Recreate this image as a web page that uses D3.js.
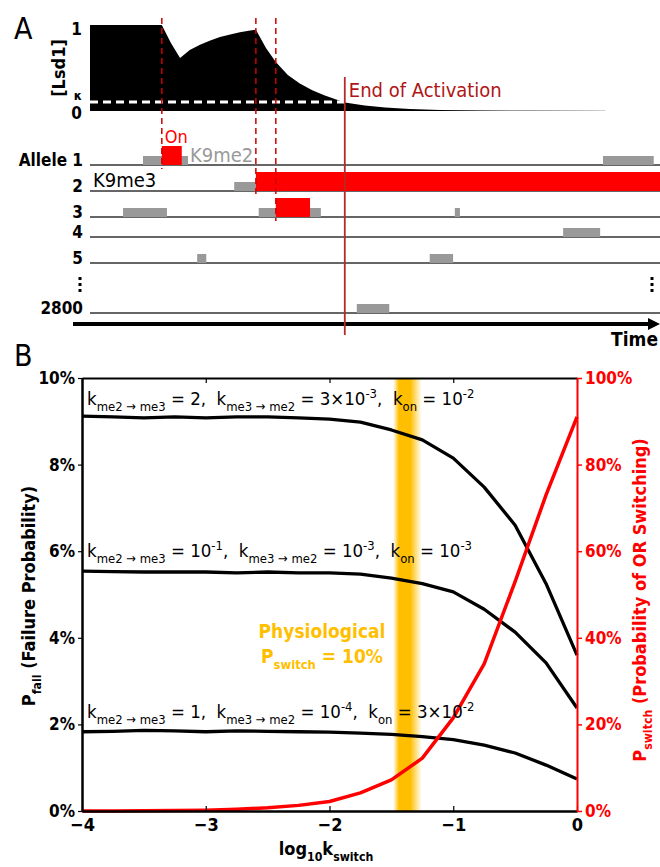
<!DOCTYPE html>
<meta charset="UTF-8">
<style>
    body { margin: 0; background: #fff; }
    svg text { font-family: "DejaVu Sans Condensed", "DejaVu Sans", sans-serif; white-space: pre; }
    .bold { font-weight: bold; }
</style>
<body>
<div id="chart"></div>
<script src="https://cdn.jsdelivr.net/npm/d3@7/dist/d3.min.js"></script>
<script>
    // ---------------- panel A data (time in arbitrary units, 0..100) ----------------
    var lsdTime  = [0, 12.6, 14.2, 15.8, 17.5, 19.3, 21.1, 22.8, 24.6, 26.3, 28.1, 29.1,
                    30.9, 32.6, 34.7, 36.8, 39.0, 41.2, 44.7, 48.2, 51.8, 56.1, 61.4, 68.4, 77.2, 90.4];
    var lsdLevel = [1, 1, 0.79, 0.616, 0.71, 0.77, 0.82, 0.86, 0.89, 0.915, 0.935, 0.945,
                    0.73, 0.57, 0.42, 0.32, 0.24, 0.18, 0.10, 0.065, 0.04, 0.022, 0.012, 0.005, 0.002, 0];
    var kappa = 0.105;
    var endOfActivation = 44.7;

    var alleleLabels = ["Allele 1", "2", "3", "4", "5", "2800"];

    // K9me2 periods
    var me2Row   = [0, 0, 1, 2, 2, 2, 3, 4, 4, 5];
    var me2Start = [9.3, 90.0, 25.3, 5.8, 29.6, 64.0, 83.0, 18.8, 59.6, 46.8];
    var me2End   = [17.2, 98.9, 29.1, 13.5, 40.5, 64.9, 89.5, 20.4, 63.7, 52.5];

    // "On" periods
    var onRow   = [0, 1, 2];
    var onStart = [12.6, 29.1, 32.6];
    var onEnd   = [16.1, 100, 38.6];

    // ---------------- panel B data ----------------
    var logK = [-4, -3.75, -3.5, -3.25, -3, -2.75, -2.5, -2.25, -2, -1.75, -1.5, -1.25, -1, -0.75, -0.5, -0.25, 0];
    var failHigh = [9.12, 9.10, 9.08, 9.10, 9.08, 9.10, 9.10, 9.08, 9.05, 8.98, 8.80, 8.57, 8.15, 7.48, 6.60, 5.25, 3.60];
    var failMid  = [5.54, 5.53, 5.52, 5.52, 5.52, 5.50, 5.52, 5.50, 5.50, 5.47, 5.38, 5.25, 5.06, 4.66, 4.13, 3.42, 2.38];
    var failLow  = [1.83, 1.84, 1.86, 1.85, 1.83, 1.85, 1.84, 1.83, 1.82, 1.80, 1.77, 1.72, 1.65, 1.52, 1.34, 1.06, 0.74];
    var pSwitch  = [0, 0, 0.05, 0.1, 0.2, 0.4, 0.75, 1.3, 2.2, 4.2, 7.2, 12.2, 21.5, 34, 53, 73, 91];
    var physioLogK = -1.37;
    var physioHalfWidth = 0.115;

    var failTicks = [0, 2, 4, 6, 8, 10];
    var switchTicks = [0, 20, 40, 60, 80, 100];
    var xTicks = [-4, -3, -2, -1, 0];

    // label pieces: [text, "n" | "sub" | "sup"]
    var labelHigh = [["k", "n"], ["me2 \u2192 me3", "sub"], [" = 2,  k", "n"], ["me3 \u2192 me2", "sub"],
                     [" = 3\u00d710", "n"], ["-3", "sup"], [",  k", "n"], ["on", "sub"], [" = 10", "n"], ["-2", "sup"]];
    var labelMid  = [["k", "n"], ["me2 \u2192 me3", "sub"], [" = 10", "n"], ["-1", "sup"], [",  k", "n"], ["me3 \u2192 me2", "sub"],
                     [" = 10", "n"], ["-3", "sup"], [",  k", "n"], ["on", "sub"], [" = 10", "n"], ["-3", "sup"]];
    var labelLow  = [["k", "n"], ["me2 \u2192 me3", "sub"], [" = 1,  k", "n"], ["me3 \u2192 me2", "sub"],
                     [" = 10", "n"], ["-4", "sup"], [",  k", "n"], ["on", "sub"], [" = 3\u00d710", "n"], ["-2", "sup"]];

    var svg = d3.select("#chart").append("svg")
            .attr("width", 660)
            .attr("height", 867);

    // writes pieces of text with sub/superscripts into a <text>
    function richText(textSel, parts, size, ratio) {
        var cur = 0;
        ratio = ratio || 0.68;
        parts.forEach(function (p) {
            var off = p[1] === "sub" ? size * 0.32 : p[1] === "sup" ? -size * 0.38 : 0;
            textSel.append("tspan")
                    .attr("dy", off - cur)
                    .style("font-size", (p[1] === "n" ? size : size * ratio) + "px")
                    .text(p[0]);
            cur = off;
        });
    }

    // ======================= PANEL A =======================
    var t = d3.scaleLinear().domain([0, 100]).range([90, 660]);
    var yLsd = d3.scaleLinear().domain([0, 1]).range([111, 25]);
    var rowY = [165, 191, 217, 237, 263, 313];

    svg.append("text").attr("x", 14).attr("y", 39)
            .style("font-size", "30px").text("A");

    // faint trace along the baseline, showing where the tail fades out
    svg.append("path")
            .datum(lsdTime)
            .attr("fill", "none")
            .attr("stroke", "#cfcfcf")
            .attr("stroke-width", 1)
            .attr("d", d3.line()
                    .x(function (d) { return t(d); })
                    .y(function () { return yLsd(0) - 0.5; }));

    svg.append("path")
            .datum(lsdTime)
            .attr("fill", "#000")
            .attr("d", d3.area()
                    .x(function (d) { return t(d); })
                    .y0(yLsd(0))
                    .y1(function (d, i) { return yLsd(lsdLevel[i]); }));

    // kappa threshold
    svg.append("line")
            .attr("x1", t(0)).attr("x2", t(endOfActivation))
            .attr("y1", yLsd(kappa)).attr("y2", yLsd(kappa))
            .attr("stroke", "#fff").attr("stroke-width", 3)
            .attr("stroke-dasharray", "8,5");

    svg.append("text").attr("class", "bold").attr("x", 82).attr("y", 35)
            .attr("text-anchor", "end").style("font-size", "17px").text("1");
    svg.append("text").attr("class", "bold").attr("x", 82).attr("y", 100)
            .attr("text-anchor", "end").style("font-size", "13px").text("\u03ba");
    svg.append("text").attr("class", "bold").attr("x", 82).attr("y", 119)
            .attr("text-anchor", "end").style("font-size", "17px").text("0");
    svg.append("text").attr("class", "bold")
            .attr("transform", "translate(65,68) rotate(-90)")
            .attr("text-anchor", "middle").style("font-size", "18px").text("[Lsd1]");

    // allele rows
    svg.selectAll("line.row").data(alleleLabels).enter().append("line")
            .attr("class", "row")
            .attr("x1", t(0)).attr("x2", t(100))
            .attr("y1", function (d, i) { return rowY[i]; })
            .attr("y2", function (d, i) { return rowY[i]; })
            .attr("stroke", "#333").attr("stroke-width", 1.5);

    svg.selectAll("text.rowlab").data(alleleLabels).enter().append("text")
            .attr("class", "rowlab bold")
            .attr("x", 83)
            .attr("y", function (d, i) { return rowY[i] + 1; })
            .attr("text-anchor", "end")
            .style("font-size", "17px")
            .text(function (d) { return d; });

    svg.selectAll("rect.me2").data(me2Row).enter().append("rect")
            .attr("class", "me2")
            .attr("x", function (d, i) { return t(me2Start[i]); })
            .attr("width", function (d, i) { return t(me2End[i]) - t(me2Start[i]); })
            .attr("y", function (d) { return rowY[d] - 9; })
            .attr("height", 9)
            .attr("fill", "#999");

    svg.selectAll("rect.on").data(onRow).enter().append("rect")
            .attr("class", "on")
            .attr("x", function (d, i) { return t(onStart[i]); })
            .attr("width", function (d, i) { return t(onEnd[i]) - t(onStart[i]); })
            .attr("y", function (d) { return rowY[d] - 19; })
            .attr("height", 19)
            .attr("fill", "#ff0000");

    // dashed markers at each switch-on
    svg.selectAll("line.onmark").data(onRow).enter().append("line")
            .attr("class", "onmark")
            .attr("x1", function (d, i) { return t(onStart[i]); })
            .attr("x2", function (d, i) { return t(onStart[i]); })
            .attr("y1", 18)
            .attr("y2", function (d) { return rowY[d] + 4; })
            .attr("stroke", "#cc0000").attr("stroke-width", 1.5)
            .attr("stroke-dasharray", "6,4");

    svg.append("text").attr("x", t(onStart[0]) + 3).attr("y", 143)
            .attr("fill", "#f00").style("font-size", "18px").text("On");
    svg.append("text").attr("x", 190).attr("y", 162)
            .attr("fill", "#999").style("font-size", "20px").text("K9me2");
    svg.append("text").attr("x", 93).attr("y", 187)
            .attr("fill", "#000").style("font-size", "20px").text("K9me3");

    // vertical dots
    [[80, 277], [652, 277]].forEach(function (p) {
        for (var k = 0; k < 3; k++) {
            svg.append("rect").attr("x", p[0] - 1.5).attr("y", p[1] + k * 6)
                    .attr("width", 3).attr("height", 3).attr("fill", "#000");
        }
    });

    // time arrow
    svg.append("line").attr("x1", 73).attr("x2", 650).attr("y1", 324).attr("y2", 324)
            .attr("stroke", "#000").attr("stroke-width", 4);
    svg.append("path").attr("d", "M648,318L660,324L648,330Z").attr("fill", "#000");
    svg.append("text").attr("class", "bold").attr("x", 658).attr("y", 346)
            .attr("text-anchor", "end").style("font-size", "19px").text("Time");

    // end of activation
    svg.append("line")
            .attr("x1", t(endOfActivation)).attr("x2", t(endOfActivation))
            .attr("y1", 77).attr("y2", 335)
            .attr("stroke", "#b52a2a").attr("stroke-width", 1.8);
    svg.append("text").attr("x", t(endOfActivation) + 4).attr("y", 97)
            .attr("fill", "#b01515").style("font-size", "20px").text("End of Activation");

    // ======================= PANEL B =======================
    var x = d3.scaleLinear().domain([-4, 0]).range([82, 577]);
    var yL = d3.scaleLinear().domain([0, 10]).range([811, 378]);
    var yR = d3.scaleLinear().domain([0, 100]).range([811, 378]);

    svg.append("text").attr("x", 14).attr("y", 366)
            .style("font-size", "30px").text("B");

    var defs = svg.append("defs");
    var grad = defs.append("linearGradient").attr("id", "band")
            .attr("x1", "0%").attr("x2", "100%").attr("y1", "0%").attr("y2", "0%");
    [[0, 0], [0.2, 1], [0.6, 1], [1, 0]].forEach(function (s) {
        grad.append("stop").attr("offset", s[0]).attr("stop-color", "#ffbf00").attr("stop-opacity", s[1]);
    });

    svg.append("rect")
            .attr("x", x(physioLogK - physioHalfWidth))
            .attr("width", x(physioLogK + physioHalfWidth) - x(physioLogK - physioHalfWidth))
            .attr("y", yL(10)).attr("height", yL(0) - yL(10))
            .attr("fill", "url(#band)");

    var failLine = d3.line()
            .x(function (d, i) { return x(logK[i]); })
            .y(function (d) { return yL(d); });

    [failHigh, failMid, failLow].forEach(function (s) {
        svg.append("path").datum(s)
                .attr("fill", "none").attr("stroke", "#000")
                .attr("stroke-width", 3.3).attr("stroke-linejoin", "round")
                .attr("d", failLine);
    });

    svg.append("path").datum(pSwitch)
            .attr("fill", "none").attr("stroke", "#ff0000")
            .attr("stroke-width", 3.5).attr("stroke-linejoin", "round")
            .attr("d", d3.line()
                    .x(function (d, i) { return x(logK[i]); })
                    .y(function (d) { return yR(d); }));

    // axes
    var pct = function (d) { return d + "%"; };
    var gL = svg.append("g").attr("transform", "translate(" + x(-4) + ",0)")
            .call(d3.axisLeft(yL).tickValues(failTicks).tickFormat(pct).tickSize(4).tickSizeOuter(0).tickPadding(3));
    var gB = svg.append("g").attr("transform", "translate(0," + yL(0) + ")")
            .call(d3.axisBottom(x).tickValues(xTicks).tickFormat(d3.format("d")).tickSize(-5).tickSizeOuter(0).tickPadding(7));
    var gT = svg.append("g").attr("transform", "translate(0," + yL(10) + ")")
            .call(d3.axisTop(x).tickValues(xTicks).tickFormat("").tickSize(-5).tickSizeOuter(0));
    var gR = svg.append("g").attr("transform", "translate(" + x(0) + ",0)")
            .call(d3.axisRight(yR).tickValues(switchTicks).tickFormat(pct).tickSize(5).tickSizeOuter(0).tickPadding(3));

    [gL, gB, gT, gR].forEach(function (g) { g.attr("font-family", null).attr("font-size", null); });
    [gL, gB, gT].forEach(function (g) {
        g.selectAll("path.domain").attr("stroke", "#000").attr("stroke-width", 2.5);
        g.selectAll(".tick line").attr("stroke", "#000").attr("stroke-width", 1.2);
        g.selectAll(".tick text").attr("class", "bold").attr("fill", "#000").style("font-size", "17px");
    });
    gT.selectAll("path.domain").attr("stroke-width", 2);
    gB.selectAll(".tick text").style("font-size", "18px");
    gR.selectAll("path.domain").attr("stroke", "#ff0000").attr("stroke-width", 2);
    gR.selectAll(".tick line").attr("stroke", "#ff0000").attr("stroke-width", 1.5);
    gR.selectAll(".tick text").attr("class", "bold").attr("fill", "#ff0000").style("font-size", "17px");

    // curve labels
    richText(svg.append("text").attr("x", 87).attr("y", 405), labelHigh, 18.5, 0.7);
    richText(svg.append("text").attr("x", 87).attr("y", 557), labelMid, 18.5, 0.7);
    richText(svg.append("text").attr("x", 87).attr("y", 718), labelLow, 18.5, 0.7);

    // physiological annotation
    svg.append("text").attr("class", "bold").attr("x", 322).attr("y", 638)
            .attr("text-anchor", "middle").attr("fill", "#ffbf00")
            .style("font-size", "19px").text("Physiological");
    richText(svg.append("text").attr("class", "bold").attr("x", 322).attr("y", 663)
            .attr("text-anchor", "middle").attr("fill", "#ffbf00"),
            [["P", "n"], ["switch", "sub"], [" = 10%", "n"]], 19);

    // axis titles
    richText(svg.append("text").attr("class", "bold")
            .attr("transform", "translate(35,596) rotate(-90)")
            .attr("text-anchor", "middle"),
            [["P", "n"], ["fail", "sub"], [" (Failure Probability)", "n"]], 18);
    richText(svg.append("text").attr("class", "bold")
            .attr("transform", "translate(646,600) rotate(-90)")
            .attr("text-anchor", "middle").attr("fill", "#ff0000"),
            [["P", "n"], ["switch", "sub"], [" (Probability of OR Switching)", "n"]], 18);
    richText(svg.append("text").attr("class", "bold")
            .attr("x", 326).attr("y", 855).attr("text-anchor", "middle"),
            [["log", "n"], ["10", "sub"], ["k", "n"], ["switch", "sub"]], 18);
</script>
</body>
